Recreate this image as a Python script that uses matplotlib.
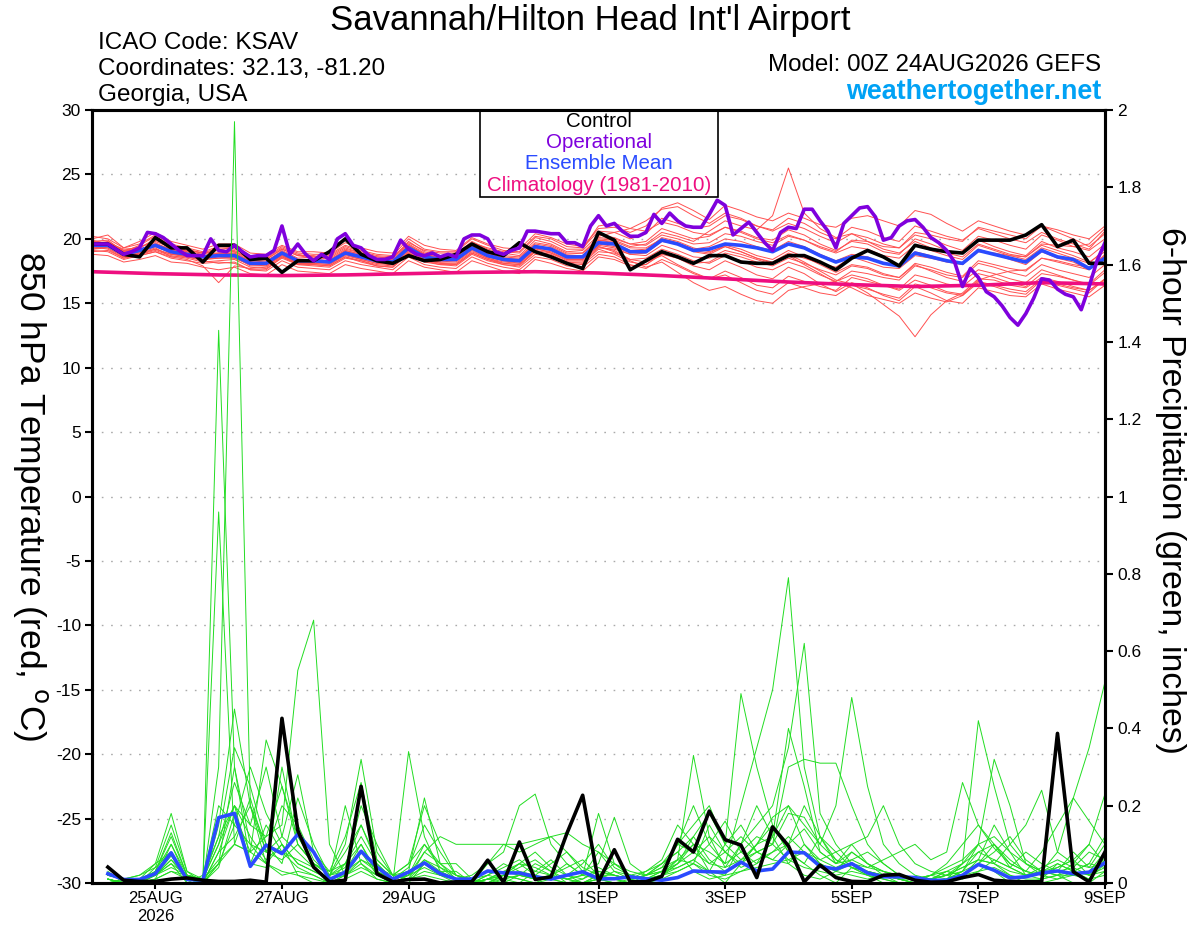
import numpy as np
import matplotlib.pyplot as plt
from matplotlib.patches import Rectangle

plt.rcParams["font.family"] = ["Liberation Sans", "DejaVu Sans"]

# time axis: days since 00Z 24AUG2026
t_temp = np.arange(65) / 4.0        # 6-hourly, 00Z 24AUG .. 00Z 9SEP
t_prcp = np.arange(1, 65) / 4.0     # 6-hour accumulations ending 06Z 24AUG ..
t_oper = np.arange(129) / 8.0       # operational run, 3-hourly
t_clim = np.arange(17)              # daily climatology

tick_days = [1, 3, 5, 8, 10, 12, 14, 16]
tick_labels = ["25AUG\n2026", "27AUG", "29AUG", "1SEP", "3SEP", "5SEP", "7SEP", "9SEP"]

control_temp = [
    19.6, 19.6, 18.8, 18.6, 20.1, 19.3, 19.3, 18.2, 19.5, 19.5, 18.4, 18.5, 17.4, 18.3, 18.3, 19.0,
    20.0, 18.8, 18.3, 18.1, 18.7, 18.3, 18.4, 18.8, 19.6, 19.0, 18.7, 19.7, 19.0, 18.6, 18.1, 17.7,
    20.5, 19.9, 17.6, 18.3, 19.0, 18.6, 18.1, 18.7, 18.7, 18.2, 18.1, 18.1, 18.7, 18.7, 18.2, 17.6,
    18.5, 19.1, 18.6, 17.9, 19.5, 19.2, 19.0, 18.9, 19.9, 19.9, 19.9, 20.3, 21.1, 19.4, 19.9, 18.1, 18.1,
]
mean_temp = [
    19.5, 19.5, 18.8, 19.1, 19.5, 19.0, 18.8, 18.6, 18.7, 18.7, 18.1, 18.1, 18.9, 18.3, 18.3, 18.2,
    18.9, 18.6, 18.3, 18.2, 19.3, 18.6, 18.4, 18.4, 19.3, 18.7, 18.4, 18.3, 19.4, 19.2, 18.6, 18.6,
    19.7, 19.6, 19.0, 19.0, 19.9, 19.6, 19.1, 19.2, 19.6, 19.5, 19.3, 19.0, 19.6, 19.3, 18.7, 18.2,
    18.6, 18.5, 18.1, 17.9, 18.9, 18.6, 18.3, 18.1, 19.1, 18.8, 18.5, 18.2, 19.1, 18.6, 18.4, 17.7, 18.5,
]
oper_temp = [
    19.6, 19.6, 19.6, 19.2, 18.8, 19.0, 19.3, 20.5, 20.4, 20.1, 19.6, 19.1, 18.7, 18.7, 18.7, 20.0,
    19.1, 19.0, 19.5, 19.0, 18.6, 18.7, 18.7, 19.1, 21.0, 18.8, 19.6, 18.8, 18.3, 18.8, 18.4, 20.0,
    20.4, 19.5, 19.3, 18.7, 18.4, 18.4, 18.6, 19.9, 19.2, 18.8, 18.7, 18.9, 18.6, 18.8, 18.6, 20.0,
    20.3, 20.3, 20.0, 19.0, 18.8, 19.1, 19.3, 20.6, 20.6, 20.5, 20.4, 20.4, 19.7, 19.7, 19.4, 21.0,
    21.8, 21.0, 21.2, 20.6, 20.2, 20.2, 20.5, 21.9, 21.2, 22.0, 21.4, 21.0, 20.9, 20.9, 21.9, 23.0,
    22.6, 20.3, 20.8, 21.3, 20.5, 19.7, 19.1, 20.5, 20.9, 20.8, 22.3, 22.3, 21.4, 20.6, 19.3, 21.2,
    21.8, 22.4, 22.5, 21.7, 19.9, 20.1, 21.0, 21.4, 21.5, 20.9, 20.1, 19.7, 19.1, 18.2, 16.3, 17.7,
    17.0, 15.9, 15.5, 14.8, 13.9, 13.3, 14.2, 15.4, 16.9, 16.8, 16.1, 15.7, 15.5, 14.5, 16.3, 18.3, 19.7,
]
clim_temp = [17.45, 17.3, 17.2, 17.15, 17.2, 17.3, 17.4, 17.45, 17.35, 17.15,
             16.9, 16.65, 16.45, 16.3, 16.4, 16.6, 16.5]

member_temp = [
    [19.8, 19.9, 19.0, 19.3, 20.0, 19.4, 19.0, 18.8, 19.2, 19.0, 18.5, 18.4, 19.2, 18.7, 18.5, 18.6,
     19.3, 18.9, 18.6, 18.5, 19.8, 19.0, 18.7, 18.8, 19.8, 19.2, 18.9, 18.7, 19.9, 19.6, 19.0, 19.1,
     20.3, 20.1, 19.6, 19.8, 20.8, 20.4, 20.0, 20.2, 20.9, 20.6, 20.1, 19.9, 20.7, 20.3, 19.6, 19.1,
     19.8, 19.6, 19.0, 18.8, 20.0, 19.6, 19.1, 18.9, 19.9, 19.4, 19.0, 18.7, 19.8, 19.3, 19.0, 18.6, 19.6],
    [19.2, 19.3, 18.6, 18.8, 19.1, 18.7, 18.5, 18.2, 18.3, 18.4, 17.8, 17.7, 18.5, 18.0, 17.9, 17.8,
     18.5, 18.3, 17.9, 17.8, 18.9, 18.3, 18.0, 18.0, 18.9, 18.4, 18.0, 17.9, 19.0, 18.8, 18.2, 18.1,
     19.2, 18.8, 18.2, 18.0, 18.9, 18.5, 17.9, 17.6, 18.3, 17.8, 17.2, 16.9, 17.8, 17.3, 16.5, 15.9,
     16.6, 16.2, 15.6, 15.2, 16.3, 15.8, 15.2, 15.0, 16.2, 15.9, 15.6, 15.5, 16.5, 16.1, 15.8, 15.5, 16.4],
    [19.6, 19.8, 19.1, 19.4, 19.7, 19.1, 19.1, 18.9, 18.9, 19.0, 18.3, 18.2, 19.1, 18.5, 18.6, 18.4,
     19.1, 18.8, 18.5, 18.3, 19.5, 18.8, 18.6, 18.6, 19.5, 19.0, 18.6, 18.5, 19.6, 19.4, 18.8, 18.9,
     20.0, 19.9, 19.4, 19.6, 20.5, 20.2, 19.8, 20.6, 21.4, 21.0, 20.7, 21.8, 25.5, 22.0, 20.8, 20.1,
     20.4, 19.8, 19.2, 18.9, 19.8, 19.3, 18.9, 18.6, 19.6, 19.2, 18.8, 18.6, 19.5, 19.1, 18.7, 18.2, 19.0],
    [19.3, 19.4, 18.7, 19.0, 19.4, 18.9, 18.6, 18.4, 18.5, 18.6, 17.9, 17.9, 18.7, 18.1, 18.1, 18.0,
     18.7, 18.4, 18.1, 18.0, 19.1, 18.4, 18.2, 18.2, 19.1, 18.5, 18.2, 18.1, 19.2, 19.0, 18.4, 18.4,
     19.5, 19.3, 18.8, 18.7, 19.5, 19.1, 18.6, 18.5, 19.1, 18.8, 18.4, 18.0, 18.8, 18.2, 17.5, 16.8,
     16.5, 15.8, 14.9, 14.0, 12.4, 14.1, 15.2, 15.8, 16.9, 16.8, 16.4, 16.2, 17.0, 16.7, 16.3, 16.0, 16.8],
    [20.0, 20.3, 19.3, 19.6, 20.3, 19.6, 19.3, 19.0, 19.4, 19.3, 18.7, 18.6, 19.4, 18.9, 18.8, 18.8,
     19.5, 19.1, 18.8, 18.7, 20.0, 19.2, 19.0, 19.0, 20.0, 19.5, 19.1, 19.0, 20.2, 20.0, 19.4, 19.3,
     20.6, 20.5, 20.0, 20.4, 21.6, 21.2, 20.8, 21.0, 21.8, 21.5, 21.0, 20.7, 21.6, 21.2, 20.5, 20.0,
     20.9, 20.6, 20.1, 19.8, 21.0, 20.6, 20.2, 19.9, 20.8, 20.4, 20.0, 19.7, 20.5, 20.0, 19.6, 19.2, 20.6],
    [19.1, 19.0, 18.4, 18.7, 19.0, 18.5, 18.3, 18.1, 18.2, 18.1, 17.6, 17.5, 18.3, 17.8, 17.7, 17.6,
     18.3, 18.0, 17.8, 17.6, 18.6, 18.0, 17.8, 17.7, 18.6, 18.1, 17.8, 17.6, 18.6, 18.4, 17.9, 17.8,
     18.8, 18.6, 18.0, 17.7, 18.4, 17.9, 17.3, 16.9, 17.5, 17.0, 16.4, 16.2, 17.1, 16.7, 16.3, 16.0,
     17.0, 16.7, 16.4, 16.1, 17.2, 16.9, 16.5, 16.3, 17.3, 17.0, 16.6, 16.3, 17.3, 17.1, 16.8, 16.5, 17.6],
    [19.5, 19.6, 19.0, 19.2, 19.6, 19.2, 18.9, 18.7, 18.9, 18.8, 18.3, 18.3, 19.0, 18.4, 18.4, 18.3,
     19.0, 18.7, 18.4, 18.3, 19.4, 18.8, 18.5, 18.5, 19.4, 18.9, 18.5, 18.4, 19.5, 19.2, 18.7, 18.7,
     20.2, 20.5, 20.8, 21.4, 22.3, 22.5, 21.8, 21.2, 22.0, 21.6, 21.0, 20.6, 21.2, 20.8, 20.2, 19.7,
     20.4, 20.1, 19.6, 19.3, 20.3, 20.0, 19.5, 19.1, 20.2, 19.9, 19.5, 19.2, 20.3, 19.9, 19.4, 19.1, 20.0],
    [19.4, 19.2, 18.5, 18.9, 19.2, 18.8, 18.7, 18.4, 18.6, 18.5, 18.0, 18.0, 18.8, 18.2, 18.2, 18.1,
     18.8, 18.5, 18.2, 18.1, 19.2, 18.5, 18.2, 18.3, 19.2, 18.6, 18.3, 18.2, 19.3, 19.1, 18.5, 18.5,
     19.4, 19.0, 18.3, 17.8, 18.2, 17.4, 16.6, 16.0, 16.3, 15.7, 15.2, 15.0, 16.0, 16.3, 16.5, 16.7,
     17.5, 17.3, 17.0, 16.8, 17.9, 17.6, 17.2, 17.0, 18.1, 17.8, 17.4, 17.1, 18.0, 17.6, 17.3, 17.0, 18.0],
    [19.7, 19.5, 18.9, 19.1, 19.8, 19.3, 18.9, 18.7, 18.8, 18.9, 18.2, 18.1, 19.0, 18.4, 18.3, 18.3,
     19.0, 18.7, 18.3, 18.2, 19.4, 18.7, 18.5, 18.4, 19.3, 18.8, 18.4, 18.3, 19.4, 19.2, 18.6, 18.6,
     19.9, 19.8, 19.3, 19.3, 20.0, 19.7, 19.2, 19.4, 20.0, 19.8, 19.4, 19.1, 19.8, 19.4, 18.8, 18.3,
     18.8, 18.6, 18.1, 17.9, 19.0, 18.7, 18.3, 18.0, 19.2, 18.8, 18.4, 18.0, 19.0, 18.5, 18.2, 17.6, 18.8],
    [19.0, 19.1, 18.5, 18.7, 19.0, 18.6, 18.6, 18.3, 18.1, 18.2, 17.6, 17.6, 18.6, 18.0, 18.0, 17.9,
     18.6, 18.2, 17.9, 17.8, 18.8, 18.2, 18.0, 17.9, 18.8, 18.3, 18.0, 17.8, 18.8, 18.6, 18.1, 18.0,
     19.0, 18.9, 18.4, 18.5, 19.2, 18.8, 18.3, 18.1, 18.7, 18.3, 17.8, 17.6, 18.2, 17.8, 17.2, 16.7,
     17.2, 16.9, 16.4, 16.0, 16.8, 16.4, 15.9, 15.7, 16.7, 16.4, 16.1, 15.9, 16.9, 16.5, 16.2, 16.0, 16.9],
    [19.8, 19.7, 19.2, 19.3, 19.9, 19.4, 19.2, 18.9, 19.1, 19.1, 18.4, 18.4, 19.2, 18.7, 18.7, 18.5,
     19.2, 18.9, 18.6, 18.5, 19.6, 18.9, 18.7, 18.7, 19.6, 19.1, 18.7, 18.6, 19.7, 19.5, 18.9, 18.9,
     20.1, 20.0, 19.6, 19.5, 20.3, 20.0, 19.6, 19.7, 20.4, 20.2, 19.8, 19.5, 20.2, 19.9, 19.4, 19.0,
     19.9, 19.8, 19.4, 19.3, 20.5, 20.3, 20.0, 19.8, 20.9, 20.6, 20.3, 20.0, 21.0, 20.7, 20.3, 20.0, 21.0],
    [19.4, 19.5, 18.8, 18.9, 19.3, 18.6, 18.4, 17.9, 16.6, 17.9, 17.7, 17.8, 18.6, 18.1, 18.0, 17.9,
     18.6, 18.3, 18.0, 17.9, 18.9, 18.3, 18.1, 18.0, 18.9, 18.4, 18.1, 18.0, 19.0, 18.7, 18.2, 18.2,
     19.3, 19.2, 18.8, 18.9, 19.8, 19.6, 19.1, 18.9, 19.5, 19.2, 18.7, 18.4, 19.1, 18.6, 18.0, 17.4,
     18.0, 17.8, 17.3, 17.0, 18.0, 17.5, 17.0, 16.7, 17.6, 17.3, 16.9, 16.6, 17.6, 17.2, 16.8, 16.4, 17.4],
    [20.2, 20.0, 19.3, 19.8, 20.5, 19.8, 19.5, 19.2, 19.6, 19.6, 18.9, 18.8, 19.5, 19.0, 19.0, 18.9,
     19.7, 19.3, 19.0, 18.9, 20.2, 19.5, 19.2, 19.1, 20.1, 19.6, 19.3, 19.2, 20.4, 20.1, 19.6, 19.4,
     20.8, 20.9, 20.5, 21.0, 22.4, 22.8, 22.2, 21.5, 22.6, 22.2, 21.7, 21.4, 22.0, 21.6, 21.1, 20.9,
     21.6, 21.8, 21.4, 21.0, 22.2, 21.9, 21.2, 20.6, 21.4, 21.0, 20.6, 20.3, 21.0, 20.5, 20.0, 19.4, 20.4],
    [18.8, 18.7, 18.2, 18.4, 18.7, 18.2, 18.1, 17.8, 17.6, 17.8, 17.3, 17.2, 18.0, 17.5, 17.4, 17.3,
     18.0, 17.7, 17.5, 17.3, 18.3, 17.8, 17.6, 17.4, 18.3, 17.9, 17.5, 17.3, 18.4, 18.1, 17.7, 17.5,
     18.6, 18.4, 17.9, 18.0, 18.8, 18.5, 18.1, 18.2, 18.9, 18.6, 18.2, 17.9, 18.5, 18.1, 17.6, 17.2,
     17.9, 17.7, 17.2, 17.0, 18.1, 17.8, 17.4, 17.1, 18.3, 18.0, 17.7, 17.5, 18.5, 18.2, 17.9, 17.6, 18.6],
    [19.5, 19.3, 18.6, 19.0, 19.6, 18.8, 18.7, 18.6, 18.9, 18.7, 18.2, 18.0, 18.7, 18.3, 18.2, 18.2,
     19.0, 18.6, 18.3, 18.1, 19.2, 18.6, 18.4, 18.3, 19.2, 18.6, 18.3, 18.1, 19.3, 18.9, 18.4, 18.4,
     19.6, 19.4, 18.9, 19.1, 20.1, 19.8, 19.3, 19.0, 19.4, 19.0, 18.5, 18.2, 18.9, 18.5, 18.1, 17.8,
     18.6, 18.2, 17.8, 17.7, 18.7, 18.5, 18.2, 18.0, 19.0, 18.9, 18.7, 18.6, 19.6, 19.5, 19.4, 19.6, 20.8],
    [19.6, 19.7, 19.1, 19.2, 19.6, 19.2, 19.0, 18.6, 18.8, 18.9, 18.2, 18.1, 18.9, 18.4, 18.4, 18.3,
     19.1, 18.8, 18.4, 18.4, 19.5, 18.8, 18.5, 18.4, 19.4, 18.9, 18.5, 18.4, 19.4, 19.3, 18.7, 18.6,
     19.9, 19.7, 19.1, 19.2, 20.0, 19.6, 19.0, 18.8, 19.4, 19.0, 18.5, 18.1, 18.7, 18.0, 17.3, 16.6,
     16.2, 15.6, 15.3, 15.0, 15.8, 15.4, 15.1, 15.6, 16.8, 17.2, 17.5, 17.6, 18.5, 18.3, 18.0, 17.8, 18.7],
    [19.9, 19.6, 19.0, 19.5, 20.2, 19.5, 19.1, 18.9, 19.3, 19.2, 18.6, 18.5, 19.3, 18.8, 18.6, 18.7,
     19.4, 19.0, 18.7, 18.6, 19.7, 19.1, 18.9, 18.9, 19.7, 19.3, 19.0, 18.9, 20.1, 19.8, 19.2, 19.2,
     21.0, 21.2, 20.8, 20.6, 21.3, 21.0, 20.5, 20.3, 20.9, 20.5, 20.0, 19.7, 20.3, 19.9, 19.3, 18.9,
     19.4, 19.2, 18.7, 18.5, 19.5, 19.1, 18.7, 18.4, 19.5, 19.1, 18.7, 18.4, 19.3, 18.9, 18.5, 18.1, 19.2],
    [19.2, 19.4, 18.7, 18.8, 19.2, 18.8, 18.6, 18.4, 18.5, 18.5, 18.0, 17.9, 18.7, 18.1, 18.1, 18.0,
     18.8, 18.4, 18.1, 18.0, 19.0, 18.4, 18.1, 18.1, 19.0, 18.5, 18.1, 18.0, 19.1, 18.9, 18.3, 18.3,
     19.4, 19.1, 18.4, 18.2, 18.7, 18.0, 17.4, 16.9, 17.2, 16.6, 16.0, 15.7, 16.6, 16.2, 15.8, 15.6,
     16.4, 16.1, 15.7, 15.4, 16.5, 16.2, 15.8, 15.6, 16.6, 16.3, 15.9, 15.7, 16.8, 16.4, 16.1, 15.8, 16.9],
]

control_prcp = [
    .041, .007, .004, .004, .010, .013, .007, .004, .004, .007, .002, .426, .136, .041, .003, .007,
    .250, .024, .003, .009, .010, .000, .003, .003, .059, .002, .106, .009, .016, .128, .227, .003,
    .086, .003, .003, .017, .113, .080, .186, .112, .098, .014, .145, .096, .003, .046, .014, .004,
    .003, .020, .022, .007, .002, .003, .014, .022, .007, .004, .003, .003, .387, .029, .003, .080,
]
mean_prcp = [
    .024, .009, .009, .024, .078, .009, .007, .169, .180, .043, .098, .076, .126, .080, .009, .028,
    .082, .041, .010, .028, .052, .024, .010, .010, .031, .026, .026, .016, .010, .020, .029, .011,
    .011, .016, .011, .007, .014, .031, .029, .028, .054, .031, .036, .080, .078, .043, .036, .050,
    .026, .016, .016, .014, .007, .007, .020, .048, .033, .013, .016, .026, .031, .024, .028, .052,
]
member_prcp = [
    [.01, 0, 0, .02, .05, 0, 0, .30, 1.97, .20, .05, .10, .02, 0, 0, .05,
     .10, .02, 0, 0, .05, .02, 0, 0, .01, 0, .02, .05, .03, 0, 0, .02,
     .01, 0, 0, .02, .05, .10, .03, 0, .05, .10, .15, .08, .05, .02, 0, .04,
     .02, 0, 0, 0, .01, 0, .02, .05, .03, 0, 0, .01, .02, 0, 0, .03],
    [.02, .01, 0, .01, .10, .02, 0, 1.43, .30, .05, .15, .08, .04, .02, 0, .02,
     .05, .01, 0, .02, .10, .05, .01, 0, 0, .02, .01, 0, .02, .01, 0, .01,
     0, 0, .02, .05, .08, .03, .01, .02, .10, .20, .12, .05, .02, .01, .03, .08,
     .05, .02, 0, 0, 0, .01, .05, .10, .05, .02, 0, 0, .01, .02, .01, .02],
    [0, 0, .01, .05, .18, .03, 0, .96, .10, .08, .37, .25, .10, .05, .02, .10,
     .32, .08, .02, .05, .20, .10, .02, 0, .02, .05, .03, .02, .01, 0, .01, .03,
     .02, .01, 0, .01, .03, .05, .02, .01, .03, .05, .12, .40, .25, .08, .05, .10,
     .05, .03, .01, 0, .01, .03, .02, .06, .15, .08, .02, .01, .05, .03, .01, .05],
    [.03, 0, 0, .03, .13, .02, .01, .10, .26, .15, .12, .15, .55, .68, .10, .02,
     .06, .04, .01, .03, .22, .05, .05, .01, 0, .02, .05, .08, .04, .02, .01, .04,
     .02, .01, .02, .03, .04, .06, .03, .10, .15, .08, .10, .30, .32, .31, .31, .20,
     .10, .05, .02, .01, .02, .01, .03, .05, .10, .06, .03, .02, .04, .06, .02, .04],
    [0, .01, .02, .05, .08, 0, .02, .12, .20, .05, .04, .30, .10, .05, .02, .03,
     .08, .02, 0, .34, .12, .03, .03, 0, .01, .03, .05, .02, .05, .08, .03, .05,
     .17, .05, .02, .05, .10, .20, .10, .05, .20, .35, .50, .79, .30, .12, .05, .06,
     .08, .05, .02, .01, 0, .01, .03, .08, .10, .04, .02, .03, .05, .03, .05, .12],
    [.01, 0, .01, .02, .06, .01, 0, .05, .30, .10, .08, .12, .28, .08, .03, .05,
     .12, .05, .01, .02, .06, .04, .02, .01, .02, .01, 0, .03, .06, .02, 0, .02,
     .05, .02, .01, .02, .06, .33, .12, .04, .10, .15, .20, .35, .62, .18, .10, .05,
     .03, .02, .01, 0, .01, .02, .03, .10, .32, .20, .05, .02, .03, .08, .04, .05],
    [.02, .01, 0, .02, .04, .02, .01, .20, .15, .30, .18, .10, .05, .03, .01, .20,
     .05, .02, .01, .04, .15, .08, .02, 0, 0, .01, .02, .01, .02, .05, .02, .01,
     0, .01, .02, .03, .05, .08, .12, .08, .05, .10, .17, .20, .15, .10, .20, .48,
     .25, .10, .05, .02, .01, .03, .02, .05, .08, .12, .06, .03, .02, .05, .04, .10],
    [0, 0, .01, .03, .10, .01, 0, .08, .12, .20, .10, .05, .22, .10, .02, .04,
     .20, .10, .02, .01, .03, .02, .01, 0, .01, .02, .05, .04, .02, .01, 0, .01,
     .03, .02, .01, .03, .10, .15, .20, .10, .49, .30, .15, .08, .05, .12, .08, .04,
     .02, .01, 0, 0, .01, .02, .05, .42, .25, .10, .05, .03, .02, .02, .03, .08],
    [.02, .01, 0, .01, .03, .02, .01, .05, .10, .08, .05, .02, .03, .02, 0, .02,
     .04, .02, 0, .01, .05, .03, .01, 0, .05, .10, .08, .10, .12, .13, .10, .08,
     .05, .03, .02, .04, .10, .08, .05, .04, .06, .10, .12, .20, .10, .05, .03, .02,
     .01, .02, .01, 0, .02, .05, .10, .15, .09, .05, .03, .08, .15, .22, .35, .52],
    [.01, 0, 0, .02, .05, .02, .01, .10, .20, .12, .06, .10, .05, .03, .01, .03,
     .06, .03, .01, .02, .08, .12, .10, .10, .10, .10, .10, .11, .12, .08, .04, .02,
     .01, .02, .03, .05, .08, .12, .18, .10, .06, .08, .10, .18, .17, .10, .06, .04,
     .03, .02, .01, .01, .02, .04, .06, .10, .12, .08, .05, .03, .04, .06, .10, .23],
    [0, .01, .02, .04, .08, .01, 0, .15, .45, .20, .08, .06, .10, .05, .02, .08,
     .15, .05, .01, .02, .06, .03, .01, 0, .01, .02, .01, 0, .01, .02, .05, .10,
     .04, .02, .01, .02, .04, .06, .10, .16, .08, .05, .08, .10, .14, .08, .05, .08,
     .05, .03, .02, .01, .01, .02, .04, .06, .05, .10, .15, .24, .08, .05, .10, .05],
    [.01, 0, .01, .02, .06, .02, .01, .12, .35, .25, .10, .08, .06, .04, .01, .02,
     .08, .04, .02, .05, .10, .04, .01, 0, .02, .04, .06, .03, .02, .01, .02, .03,
     .02, .01, .03, .06, .15, .10, .05, .08, .12, .08, .06, .05, .10, .06, .08, .10,
     .12, .20, .10, .05, .03, .02, .01, .03, .06, .04, .02, .03, .08, .22, .16, .10],
    [.02, .01, 0, .03, .12, .02, 0, .08, .20, .15, .30, .12, .08, .04, .01, .03,
     .10, .03, .01, .02, .04, .02, .01, .02, .05, .08, .20, .23, .10, .05, .02, .18,
     .05, .02, .01, .03, .06, .10, .08, .05, .08, .12, .10, .06, .08, .05, .03, .05,
     .04, .06, .08, .10, .06, .08, .26, .15, .10, .05, .03, .02, .01, .03, .05, .04],
    [.01, 0, 0, .01, .03, .01, 0, .05, .15, .10, .05, .03, .02, .01, 0, .01,
     .03, .01, 0, .01, .02, .01, 0, 0, .01, .01, .02, .01, .01, 0, 0, .01,
     .01, 0, .01, .02, .03, .05, .03, .02, .03, .04, .05, .06, .04, .03, .02, .03,
     .02, .01, 0, 0, 0, .01, .02, .03, .04, .02, .01, .01, .02, .03, .02, .03],
    [.02, .01, 0, .04, .15, .03, .01, .06, .10, .22, .08, .20, .15, .06, .02, .05,
     .15, .06, .02, .01, .08, .05, .02, .01, 0, .02, .04, .06, .03, .01, .02, .08,
     .03, .01, .02, .04, .06, .05, .15, .08, .04, .06, .08, .12, .08, .06, .04, .06,
     .04, .03, .02, .01, .02, .03, .05, .08, .06, .04, .08, .05, .03, .04, .08, .06],
    [.01, 0, .01, .02, .07, .01, 0, .04, .18, .08, .12, .25, .12, .05, .03, .12,
     .26, .06, .02, .03, .05, .02, .01, 0, .01, .03, .02, .01, .02, .04, .06, .02,
     .02, .01, 0, .02, .05, .12, .06, .03, .05, .08, .06, .10, .20, .12, .06, .04,
     .03, .02, .01, 0, .01, .02, .04, .06, .05, .03, .02, .04, .06, .04, .02, .06],
]

RED = "#ff5050"
GREEN = "#22dd22"
PURPLE = "#7f00dd"
BLUE = "#2a4bff"
PINK = "#ee0e80"

fig = plt.figure(figsize=(12, 9.27), dpi=100)
ax = fig.add_axes([0.0767, 0.0475, 0.8441, 0.8338])
ax2 = ax.twinx()

# temperature (left axis)
for m in member_temp:
    ax.plot(t_temp, m, color=RED, lw=0.7, zorder=2)
ax.plot(t_clim, clim_temp, color=PINK, lw=2.6, zorder=3)
ax.plot(t_temp, mean_temp, color=BLUE, lw=2.6, zorder=4)
ax.plot(t_temp, control_temp, color="black", lw=2.6, zorder=5)
ax.plot(t_oper, oper_temp, color=PURPLE, lw=2.6, zorder=6)

# precipitation (right axis)
for m in member_prcp:
    ax2.plot(t_prcp, m, color=GREEN, lw=0.7, zorder=2)
ax2.plot(t_prcp, mean_prcp, color=BLUE, lw=2.6, zorder=4)
ax2.plot(t_prcp, control_prcp, color="black", lw=2.6, zorder=5)

ax.set_xlim(0, 16)
ax.set_ylim(-30, 30)
ax2.set_ylim(0, 2)

ax.set_yticks(np.arange(-30, 31, 5))
ax.set_yticklabels([f"{v:d}" for v in range(-30, 31, 5)])
ax2.set_yticks(np.arange(0, 2.01, 0.2))
ax2.set_yticklabels([f"{v:g}" for v in np.round(np.arange(0, 2.01, 0.2), 1)])
ax.set_xticks(tick_days)
ax.set_xticklabels(tick_labels)

ax.yaxis.grid(True, color="#aaaaaa", lw=1.0, linestyle=(0, (1.2, 5.5)))
ax.tick_params(axis="y", direction="out", length=5, width=1.5, labelsize=12.5, pad=3)
ax.tick_params(axis="x", direction="out", length=4, width=1.5, labelsize=12, pad=2)
ax2.tick_params(axis="y", direction="out", length=6, width=1.5, labelsize=12.5, pad=3)

for a in (ax, ax2):
    for s in a.spines.values():
        s.set_linewidth(2.2)

# both axis titles read top-to-bottom
ax.set_ylabel(r"850 hPa Temperature (red, $^{\mathrm{o}}$C)", fontsize=25.5,
              rotation=-90, va="center")
ax.yaxis.set_label_coords(-0.0605, 0.50)
ax2.set_ylabel("6-hour Precipitation (green, inches)", fontsize=24.3, rotation=-90, va="center")
ax2.yaxis.set_label_coords(1.065, 0.508)

# legend box
ax.add_patch(Rectangle((0.383, 0.8875), 0.235, 0.1125, transform=ax.transAxes,
                       facecolor="white", edgecolor="black", lw=1.2, zorder=10))
legend_items = [("Control", "black", 0.9858), ("Operational", PURPLE, 0.9586),
                ("Ensemble Mean", BLUE, 0.9314), ("Climatology (1981-2010)", PINK, 0.903)]
for label, col, yy in legend_items:
    ax.text(0.5005, yy, label, color=col, fontsize=14.8, ha="center", va="center",
            transform=ax.transAxes, zorder=11)

# header text
fig.text(0.492, 0.978, "Savannah/Hilton Head Int'l Airport", fontsize=25, ha="center", va="center")
fig.text(0.0817, 0.954, "ICAO Code: KSAV", fontsize=17.5, ha="left", va="center")
fig.text(0.0817, 0.926, "Coordinates: 32.13, -81.20", fontsize=17.5, ha="left", va="center")
fig.text(0.0817, 0.898, "Georgia, USA", fontsize=17.5, ha="left", va="center")
fig.text(0.918, 0.930, "Model: 00Z 24AUG2026 GEFS", fontsize=17.4, ha="right", va="center")
fig.text(0.918, 0.901, "weathertogether.net", fontsize=19.4, fontweight="bold",
         color="#00a2f5", ha="right", va="center")

fig.savefig("out.png", dpi=100)
